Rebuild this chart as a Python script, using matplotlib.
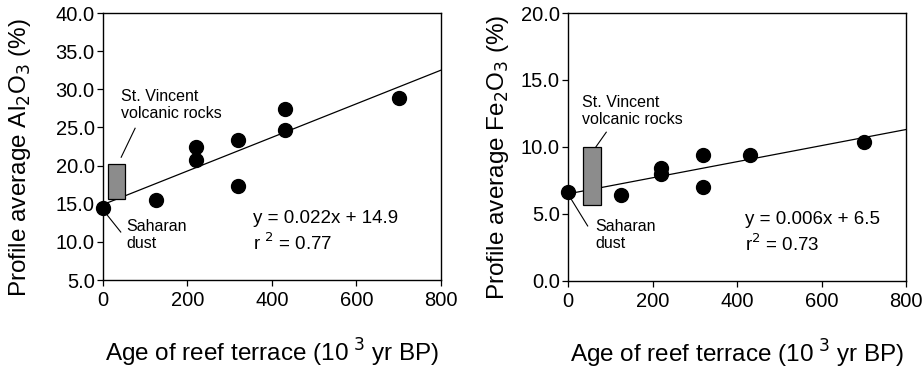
import matplotlib.pyplot as plt
from matplotlib.patches import Rectangle

plt.rcParams['font.family'] = ['Liberation Sans', 'DejaVu Sans']

# Al2O3 panel
al_age = [0, 125, 220, 220, 320, 320, 430, 430, 700]
al_val = [14.5, 15.5, 22.4, 20.7, 23.3, 17.3, 27.4, 24.7, 28.8]
al_fit = (0.022, 14.9)
al_box = (12, 52, 15.6, 20.2)  # x0, x1, y0, y1

# Fe2O3 panel
fe_age = [0, 125, 220, 220, 320, 320, 430, 700]
fe_val = [6.6, 6.4, 8.4, 8.0, 9.4, 7.0, 9.4, 10.4]
fe_fit = (0.006, 6.5)
fe_box = (35, 78, 5.7, 10.0)

fig = plt.figure(figsize=(9.24, 3.72), dpi=100)
ax1 = fig.add_axes([0.1115, 0.247, 0.3655, 0.718])
ax2 = fig.add_axes([0.615, 0.245, 0.3655, 0.720])


def panel(ax, age, val, fit, box, ylim, yticks, ylabel, ylab_x, eq, r2, eqx,
          vin_txt, vin_line, sah_txt, sah_line):
    slope, icpt = fit
    xs = [0, 800]
    ax.plot(xs, [icpt + slope * x for x in xs], color='black', lw=0.9, zorder=2)
    x0, x1, y0, y1 = box
    ax.add_patch(Rectangle((x0, y0), x1 - x0, y1 - y0, facecolor='#8c8c8c',
                           edgecolor='black', lw=0.9, zorder=3))
    ax.scatter(age, val, s=100, color='black', zorder=4, clip_on=False)
    ax.set_xlim(0, 800)
    ax.set_ylim(*ylim)
    ax.set_xticks([0, 200, 400, 600, 800])
    ax.set_yticks(yticks)
    ax.set_yticklabels([f'{t:.1f}' for t in yticks])
    ax.tick_params(labelsize=14.5, length=4, width=0.9, direction='out', pad=2)
    ax.tick_params(axis='x', pad=4)
    for s in ax.spines.values():
        s.set_linewidth(1.0)
    ax.set_ylabel(ylabel, fontsize=17.5)
    ax.yaxis.set_label_coords(ylab_x, 0.46)
    ax.set_xlabel('Age of reef terrace (10$^{\\ 3}$ yr BP)', fontsize=17.5, labelpad=19)
    ax.text(eqx, 0.213, eq, transform=ax.transAxes, fontsize=13.5)
    ax.text(eqx, 0.113, r2, transform=ax.transAxes, fontsize=13.5)
    ax.text(vin_txt[0], vin_txt[1], 'St. Vincent\nvolcanic rocks', fontsize=11.5,
            linespacing=1.15, va='bottom')
    ax.plot(vin_line[0], vin_line[1], color='black', lw=0.8)
    ax.text(sah_txt[0], sah_txt[1], 'Saharan\ndust', fontsize=11.5,
            linespacing=1.15, va='top')
    ax.plot(sah_line[0], sah_line[1], color='black', lw=0.8)


panel(ax1, al_age, al_val, al_fit, al_box, (5, 40), [5, 10, 15, 20, 25, 30, 35, 40],
      'Profile average Al$_2$O$_3$ (%)', -0.207, 'y = 0.022x + 14.9', 'r $^2$ = 0.77', 0.444,
      (42, 25.9), ([43, 76], [21.1, 24.9]),
      (55, 13.0), ([3, 42], [14.0, 11.3]))

panel(ax2, fe_age, fe_val, fe_fit, fe_box, (0, 20), [0, 5, 10, 15, 20],
      'Profile average Fe$_2$O$_3$ (%)', -0.170, 'y = 0.006x + 6.5', 'r$^2$ = 0.73', 0.524,
      (33, 11.5), ([52, 90], [9.4, 11.1]),
      (65, 4.6), ([5, 46], [6.2, 4.1]))

fig.savefig('out.png', dpi=100)
